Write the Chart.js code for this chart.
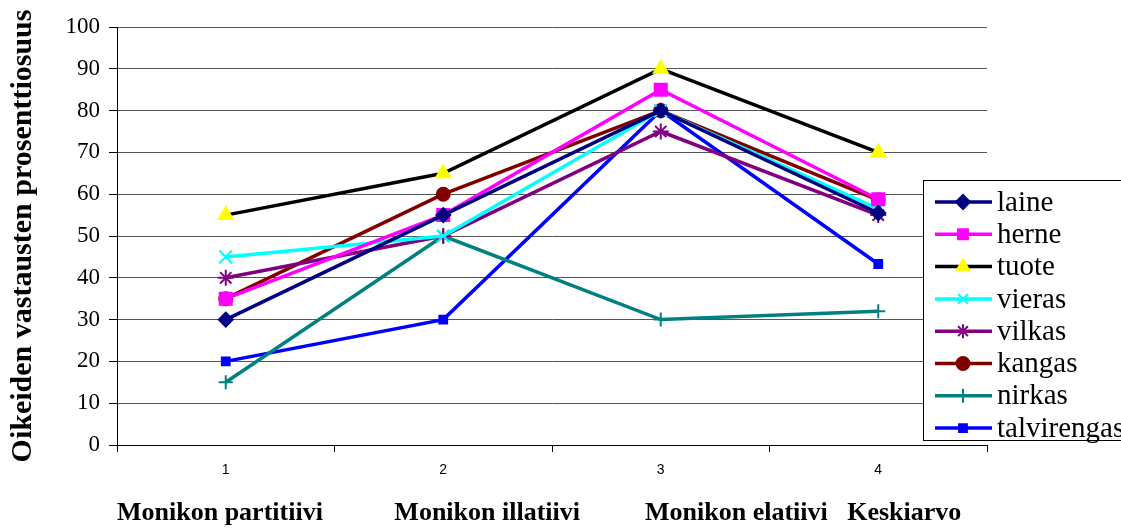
<!DOCTYPE html>
<html>
<head>
<meta charset="utf-8">
<script src="https://cdn.jsdelivr.net/npm/chart.js@4/dist/chart.umd.min.js"></script>
<style>
  html, body { margin: 0; padding: 0; background: #fff; }
  #wrap { width: 1121px; height: 529px; position: relative; }
</style>
</head>
<body>
<div id="wrap"><canvas id="kuvio"></canvas></div>
<script>
const categories = ["1", "2", "3", "4"];
const axisGroups = "Monikon partitiivi           Monikon illatiivi          Monikon elatiivi   Keskiarvo";

const laine = [30, 55, 80, 55.5];
const herne = [35, 55, 85, 58.8];
const tuote = [55, 65, 90, 70];
const vieras = [45, 50, 80, 56.5];
const vilkas = [40, 50, 75, 55];
const kangas = [35, 60, 80, 58.6];
const nirkas = [15, 50, 30, 32];
const talvirengas = [20, 30, 80, 43.3];

const serif = "'Liberation Serif', 'Times New Roman', serif";

const series = [
  { label: "laine", data: laine, color: "#000080", marker: "#000080", style: "rectRot", r: 7 },
  { label: "herne", data: herne, color: "#ff00ff", marker: "#ff00ff", style: "rect", r: 8.5 },
  { label: "tuote", data: tuote, color: "#000000", marker: "#ffff00", style: "triangle", r: 8 },
  { label: "vieras", data: vieras, color: "#00ffff", marker: "#00ffff", style: "crossRot", r: 9 },
  { label: "vilkas", data: vilkas, color: "#800080", marker: "#800080", style: "star", r: 8 },
  { label: "kangas", data: kangas, color: "#800000", marker: "#800000", style: "circle", r: 6.5 },
  { label: "nirkas", data: nirkas, color: "#008080", marker: "#008080", style: "cross", r: 7 },
  { label: "talvirengas", data: talvirengas, color: "#0000ff", marker: "#0000ff", style: "rect", r: 5.5 },
];

const datasets = series.map((s) => ({
  label: s.label,
  data: s.data,
  borderColor: s.color,
  backgroundColor: s.marker,
  pointBackgroundColor: s.marker,
  pointBorderColor: s.marker,
  pointStyle: s.style,
  pointRadius: s.r,
  pointBorderWidth: 2,
  borderWidth: 3.5,
  tension: 0,
  fill: false,
}));

// legend box drawn over the right side of the plot, like the original
const boxLegend = {
  id: "boxLegend",
  afterDraw(chart) {
    const ctx = chart.ctx;
    const left = 923, top = 180, width = 230, height = 260;
    ctx.save();
    ctx.fillStyle = "#ffffff";
    ctx.fillRect(left, top, width, height);
    ctx.strokeStyle = "#000000";
    ctx.lineWidth = 1;
    ctx.strokeRect(left + 0.5, top + 0.5, width, height);
    ctx.font = "29px " + serif;
    ctx.textBaseline = "middle";
    chart.data.datasets.forEach((ds, i) => {
      const y = top + 22 + i * 32.3;
      ctx.strokeStyle = ds.borderColor;
      ctx.lineWidth = 3.5;
      ctx.beginPath();
      ctx.moveTo(935, y);
      ctx.lineTo(992, y);
      ctx.stroke();
      ctx.fillStyle = ds.pointBackgroundColor;
      ctx.strokeStyle = ds.pointBorderColor;
      ctx.lineWidth = 2;
      Chart.helpers.drawPoint(ctx, {
        pointStyle: ds.pointStyle,
        radius: Math.min(ds.pointRadius, 7),
        rotation: 0,
        borderWidth: 2,
      }, 963, y);
      ctx.fillStyle = "#000000";
      ctx.fillText(ds.label, 997, y + 1);
    });
    ctx.restore();
  },
};

new Chart(document.getElementById("kuvio"), {
  type: "line",
  data: { labels: categories, datasets: datasets },
  options: {
    responsive: true,
    maintainAspectRatio: false,
    animation: false,
    layout: { padding: { top: 27, right: 134, left: 0, bottom: 0 } },
    plugins: {
      legend: { display: false },
      tooltip: { enabled: false },
    },
    scales: {
      x: {
        offset: true,
        afterFit(scale) { scale.height = 84; },
        grid: { offset: true, drawOnChartArea: false, drawTicks: true, tickLength: 7, color: "#000000" },
        border: { color: "#000000", width: 1 },
        ticks: {
          color: "#000000",
          padding: 10,
          font: { family: "'Liberation Sans', Arial, sans-serif", size: 14 },
        },
        title: {
          display: true,
          align: "start",
          text: axisGroups,
          color: "#000000",
          padding: { top: 0, bottom: 0 },
          font: { family: serif, size: 26, weight: "bold" },
        },
      },
      y: {
        min: 0,
        max: 100,
        afterFit(scale) { scale.width = 117; },
        ticks: {
          stepSize: 10,
          color: "#000000",
          padding: 9,
          font: { family: serif, size: 23 },
        },
        grid: { color: "#555555", tickLength: 8, tickColor: "#000000" },
        border: { color: "#000000", width: 1 },
        title: {
          display: true,
          text: "Oikeiden vastausten prosenttiosuus",
          color: "#000000",
          padding: { top: 5, bottom: 0 },
          font: { family: serif, size: 30, weight: "bold" },
        },
      },
    },
  },
  plugins: [boxLegend],
});
</script>
</body>
</html>
